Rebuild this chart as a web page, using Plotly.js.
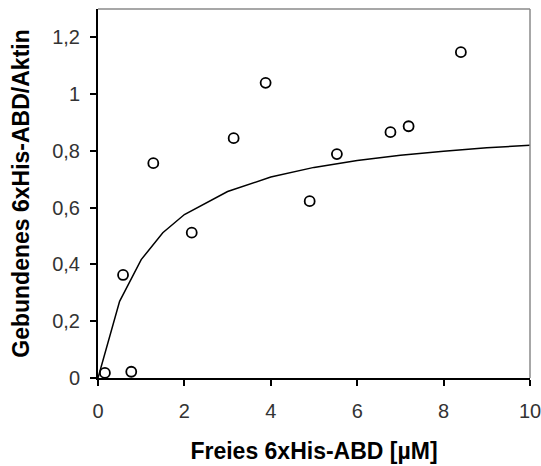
<!DOCTYPE html>
<html>
<head>
<meta charset="utf-8">
<script src="https://cdn.plot.ly/plotly-3.0.1.min.js"></script>
<style>html,body{margin:0;padding:0;background:#fff;}#chart{width:541px;height:466px;}</style>
</head>
<body>
<div id="chart"></div>
<script>
// Measured points: free 6xHis-ABD (µM) vs bound 6xHis-ABD/actin
const freeABD = [0.16, 0.77, 0.58, 1.28, 2.17, 3.14, 3.88, 4.90, 5.53, 6.77, 7.19, 8.40];
const boundABD = [0.018, 0.022, 0.363, 0.757, 0.512, 0.845, 1.04, 0.623, 0.789, 0.866, 0.887, 1.148];

// Fitted binding curve
const fitX = [0, 0.5, 1, 1.5, 2, 3, 4, 5, 6, 7, 8, 9, 10];
const fitY = [0, 0.27, 0.417, 0.512, 0.576, 0.657, 0.708, 0.742, 0.766, 0.785, 0.799, 0.811, 0.820];

// Axis ticks
const xTicks = [0, 2, 4, 6, 8, 10];
const yTicks = [0, 0.2, 0.4, 0.6, 0.8, 1, 1.2];

const traces = [
  {
    x: fitX, y: fitY, type: 'scatter', mode: 'lines',
    line: {color: '#000', width: 1.5}, hoverinfo: 'skip', cliponaxis: false
  },
  {
    x: freeABD, y: boundABD, type: 'scatter', mode: 'markers', cliponaxis: false,
    marker: {symbol: 'circle-open', size: 10, color: '#000', line: {width: 1.8, color: '#000'}}
  }
];

const tickFont = {family: '"Liberation Sans", Arial, sans-serif', size: 20, color: '#333'};
const titleFont = {family: '"Liberation Sans", Arial, sans-serif', size: 23, color: '#000', weight: 'bold'};

const layout = {
  width: 541, height: 466,
  margin: {l: 98, r: 11, t: 9, b: 88},
  paper_bgcolor: '#fff', plot_bgcolor: '#fff',
  showlegend: false,
  separators: ',.',
  xaxis: {
    range: [0, 10], tickvals: xTicks, ticks: 'outside', ticklen: 6, tickwidth: 2, tickcolor: '#000',
    showline: true, linecolor: '#000', linewidth: 2, showgrid: false, zeroline: false,
    tickfont: tickFont, ticklabelstandoff: 8, ticklabeloverflow: 'allow',
    title: {text: '<b>Freies 6xHis-ABD [µM]</b>', font: titleFont, standoff: 22},
    automargin: false
  },
  yaxis: {
    range: [0, 1.3], tickvals: yTicks, ticks: 'outside', ticklen: 6, tickwidth: 2, tickcolor: '#000',
    showline: true, linecolor: '#000', linewidth: 2, showgrid: false, zeroline: false,
    tickfont: tickFont, ticklabelstandoff: 6,
    title: {text: '<b>Gebundenes 6xHis-ABD/Aktin</b>', font: titleFont, standoff: 16},
    automargin: true
  },
  shapes: [
    {type: 'line', xref: 'paper', yref: 'paper', x0: 0, x1: 1, y0: 1, y1: 1, line: {color: '#8a8a8a', width: 1.5}},
    {type: 'line', xref: 'paper', yref: 'paper', x0: 1, x1: 1, y0: 0, y1: 1, line: {color: '#8a8a8a', width: 1.5}}
  ]
};

Plotly.newPlot('chart', traces, layout, {displayModeBar: false, staticPlot: true});
</script>
</body>
</html>
